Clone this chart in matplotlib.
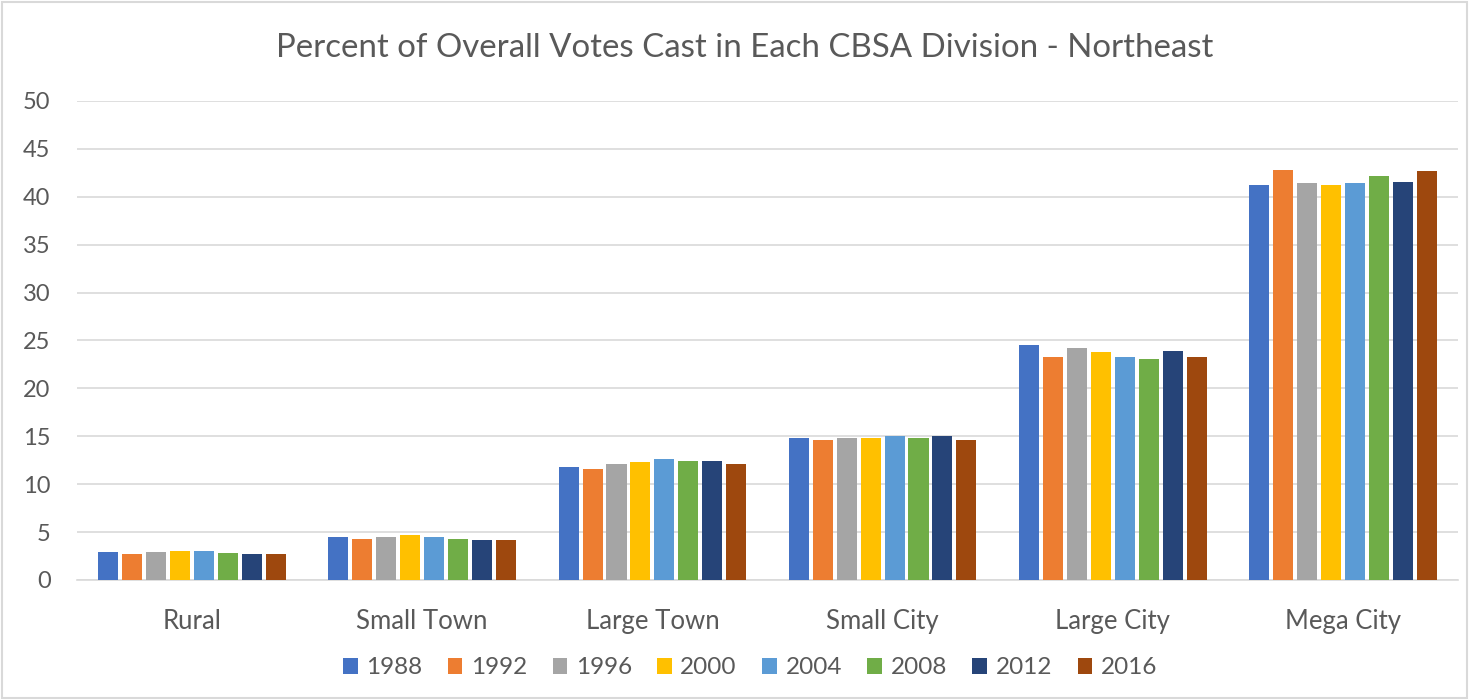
import matplotlib
matplotlib.use("Agg")
import matplotlib.pyplot as plt
import numpy as np
from matplotlib.patches import Rectangle

categories = ["Rural", "Small Town", "Large Town", "Small City", "Large City", "Mega City"]
years = ["1988", "1992", "1996", "2000", "2004", "2008", "2012", "2016"]
v1988 = [2.9, 4.5, 11.8, 14.8, 24.5, 41.2]
v1992 = [2.7, 4.3, 11.6, 14.6, 23.3, 42.8]
v1996 = [2.9, 4.45, 12.1, 14.85, 24.2, 41.4]
v2000 = [3.05, 4.65, 12.3, 14.85, 23.8, 41.2]
v2004 = [3.0, 4.5, 12.6, 15.0, 23.3, 41.4]
v2008 = [2.8, 4.3, 12.45, 14.85, 23.1, 42.2]
v2012 = [2.7, 4.15, 12.45, 15.0, 23.9, 41.5]
v2016 = [2.7, 4.15, 12.1, 14.6, 23.3, 42.7]
series = [v1988, v1992, v1996, v2000, v2004, v2008, v2012, v2016]
colors = ["#4472C4", "#ED7D31", "#A5A5A5", "#FFC000", "#5B9BD5", "#70AD47", "#264478", "#9E480E"]

plt.rcParams['font.family'] = ['Lato', 'DejaVu Sans']
fig = plt.figure(figsize=(14.69, 7.0), dpi=100)
ax = fig.add_axes([77/1469, 1-580/700, (1458-77)/1469, (580-101)/700])

x = np.arange(len(categories))
step = 0.104
width = 0.087
for i, (yr, vals, c) in enumerate(zip(years, series, colors)):
    ax.bar(x + (i - 3.5) * step, vals, width=width, color=c, label=yr, zorder=3)

ax.set_xlim(-0.5, len(categories) - 0.5)
ax.set_ylim(0, 50)
ax.set_yticks(range(0, 51, 5))
ax.yaxis.grid(True, color="#D9D9D9", linewidth=1.2, zorder=0)
ax.set_axisbelow(True)
for s in ["top", "right", "left"]:
    ax.spines[s].set_visible(False)
ax.spines["bottom"].set_color("#D9D9D9")
ax.spines["bottom"].set_linewidth(1.2)
ax.set_xticks(x)
ax.set_xticklabels(categories)
ax.tick_params(axis="x", length=0, labelsize=18.5, labelcolor="#595959", pad=21)
ax.tick_params(axis="y", length=0, labelsize=17, labelcolor="#595959", pad=19)

fig.text(745/1469, 1 - 48/700, "Percent of Overall Votes Cast in Each CBSA Division - Northeast",
         ha="center", va="center", fontsize=23.8, color="#595959")

leg = fig.legend(loc="center", bbox_to_anchor=(750/1469, 1 - 668/700), ncol=8, frameon=False,
                 fontsize=17.5, handlelength=0.6, handleheight=0.6, handletextpad=0.35,
                 columnspacing=1.05, labelcolor="#595959")

fig.patches.append(Rectangle((2/1469, 2/700), 1 - 4/1469, 1 - 4/700, transform=fig.transFigure,
                             fill=False, edgecolor="#D9D9D9", linewidth=1.5))

fig.savefig("out.png", dpi=100)
